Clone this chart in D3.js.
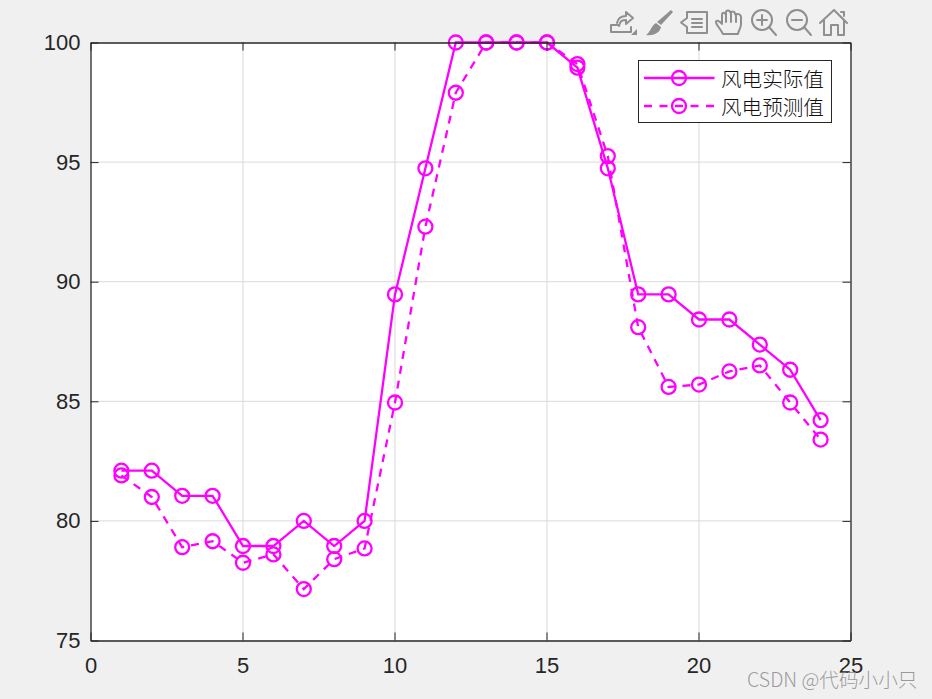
<!DOCTYPE html>
<html><head><meta charset="utf-8">
<script src="https://cdn.jsdelivr.net/npm/d3@7"></script>
<style>
html,body{margin:0;padding:0;background:#f0f0f0;overflow:hidden}
svg{display:block}
text{font-family:"Liberation Sans",Arial,sans-serif}
</style></head><body>
<svg id="c" width="932" height="699"></svg>
<script>
const hours = [1,2,3,4,5,6,7,8,9,10,11,12,13,14,15,16,17,18,19,20,21,22,23,24];
const actual = [82.1,82.1,81.05,81.05,78.95,78.95,80,78.95,80,89.47,94.74,100,100,100,100,98.95,94.74,89.47,89.47,88.42,88.42,87.37,86.32,84.21];
const predicted = [81.9,81,78.9,79.15,78.25,78.6,77.15,78.4,78.85,84.95,92.3,97.9,100,100,100,99.1,95.25,88.1,85.6,85.7,86.25,86.5,84.95,83.4];
const xTicks = [0,5,10,15,20,25];
const yTicks = [75,80,85,90,95,100];
const legendLabels = ["风电实际值","风电预测值"];
const watermark = "CSDN @代码小小只";
const color = "#ff00ff", axisColor = "#262626";

const L=90.5,R=850.5,T=42.5,B=640.5;
const svg=d3.select("#c");
const x=d3.scaleLinear().domain([0,25]).range([L,R]);
const y=d3.scaleLinear().domain([75,100]).range([B,T]);

svg.append("rect").attr("x",L).attr("y",T).attr("width",R-L).attr("height",B-T).attr("fill","#fff");

// grid
const grid=svg.append("g").attr("stroke","#d9d9d9").attr("stroke-width",1);
grid.selectAll(".gx").data(xTicks.slice(1,-1)).join("line").attr("x1",d=>x(d)+0.5).attr("x2",d=>x(d)+0.5).attr("y1",T).attr("y2",B);
grid.selectAll(".gy").data(yTicks.slice(1,-1)).join("line").attr("y1",d=>y(d)).attr("y2",d=>y(d)).attr("x1",L).attr("x2",R);

// series
const line=d3.line().x((d,i)=>x(hours[i])+0.5).y(d=>y(d));
function series(vals,dash){
  const g=svg.append("g");
  g.append("path").attr("d",line(vals)).attr("fill","none").attr("stroke",color).attr("stroke-width",2.3).attr("stroke-dasharray",dash);
  g.selectAll("circle").data(vals).join("circle").attr("cx",(d,i)=>x(hours[i])+0.5).attr("cy",d=>y(d)).attr("r",7).attr("fill","none").attr("stroke",color).attr("stroke-width",2.3);
}
series(predicted,"8 7");
series(actual,null);

// axes
function style(g){
  g.selectAll("path.domain").attr("stroke",axisColor).attr("stroke-width",1.3);
  g.selectAll(".tick line").attr("stroke",axisColor).attr("stroke-width",1);
  g.selectAll("text").attr("fill",axisColor).attr("font-size",22).attr("font-family",'"Liberation Sans",Arial,sans-serif');
}
const bottom=d3.axisBottom(x).tickValues(xTicks).tickSize(-8).tickPadding(17).tickSizeOuter(0);
const left=d3.axisLeft(y).tickValues(yTicks).tickSize(-8).tickPadding(10).tickSizeOuter(0);
const top_=d3.axisTop(x).tickValues(xTicks).tickSize(-8).tickFormat("").tickSizeOuter(0);
const right=d3.axisRight(y).tickValues(yTicks).tickSize(-8).tickFormat("").tickSizeOuter(0);
svg.append("g").attr("transform",`translate(0,${B})`).call(bottom).call(style);
svg.append("g").attr("transform",`translate(${L},0)`).call(left).call(style);
svg.append("g").attr("transform",`translate(0,${T})`).call(top_).call(style);
svg.append("g").attr("transform",`translate(${R},0)`).call(right).call(style);

// legend
const lg=svg.append("g");
lg.append("rect").attr("x",638.5).attr("y",60.5).attr("width",193).attr("height",62).attr("fill","#fff").attr("stroke",axisColor).attr("stroke-width",1);
legendLabels.forEach((t,i)=>{
  const yy=78+i*28;
  lg.append("line").attr("x1",644).attr("x2",714.5).attr("y1",yy).attr("y2",yy).attr("stroke",color).attr("stroke-width",2.3).attr("stroke-dasharray",i?"8 7.5":null);
  lg.append("circle").attr("cx",679).attr("cy",yy).attr("r",7).attr("fill","none").attr("stroke",color).attr("stroke-width",2.3);
  lg.append("text").attr("x",721).attr("y",yy+9).attr("font-size",20.6).attr("fill","#111").attr("font-weight",300).style("font-family",'"Noto Sans CJK SC"').text(t);
});

// toolbar icons
const ic=svg.append("g").attr("fill","none").attr("stroke","#8f8f8f").attr("stroke-width",2).attr("stroke-linejoin","round").attr("stroke-linecap","round");
ic.append("path").attr("d","M611 32 L611 25 L618 25 M611 32 L631 32 L631 27 M617 23 C618 18 622 16 626 16 L626 12 L633 18 L626 24 L626 20 C622 20 620 21 619 26");
svg.append("path").attr("d","M631 35 L637 35 L637 29 Z").attr("fill","#8f8f8f");
svg.append("path").attr("d","M671 10 L673 12 L661 25 L657 22 Z M656 23 L661 27 C660 33 653 36 646 35 C650 33 651 26 656 23 Z").attr("fill","#8f8f8f");
ic.append("path").attr("d","M687 12 L707 12 L707 33 L687 33 L687 27 L681 22.5 L687 18 Z M692 19 L702 19 M692 23 L702 23 M692 27 L702 27");
ic.append("path").attr("d","M723 34 C720 28 716 25 716 22 C716 20 719 20 722 24 L722 15 C722 12 725 12 726 15 L726 12 C726 10 730 10 730 12 L731 13 C731 11 735 11 735 14 L736 15 C736 13 741 14 741 17 L741 24 C741 29 738 31 738 34 Z M726 15 L726 22 M731 13 L731 22 M736 15 L736 22");
ic.append("circle").attr("cx",762).attr("cy",20).attr("r",10);
ic.append("path").attr("d","M769 27 L776 35 M757 20 L767 20 M762 15 L762 25");
ic.append("circle").attr("cx",797).attr("cy",20).attr("r",10);
ic.append("path").attr("d","M804 27 L811 35 M792 20 L802 20");
ic.append("path").attr("d","M820 23 L834 10 L847 23 M824 20 L824 35 L831 35 L831 25 L838 25 L838 35 L844 35 L844 20 M841 12 L844 12 L844 16");

// watermark
svg.append("text").attr("x",747).attr("y",687).attr("font-size",19.6).attr("fill","#8a8a8a").attr("fill-opacity",0.85).style("font-family",'"Noto Sans CJK SC"').attr("font-weight",300).text(watermark);
</script>
</body></html>
